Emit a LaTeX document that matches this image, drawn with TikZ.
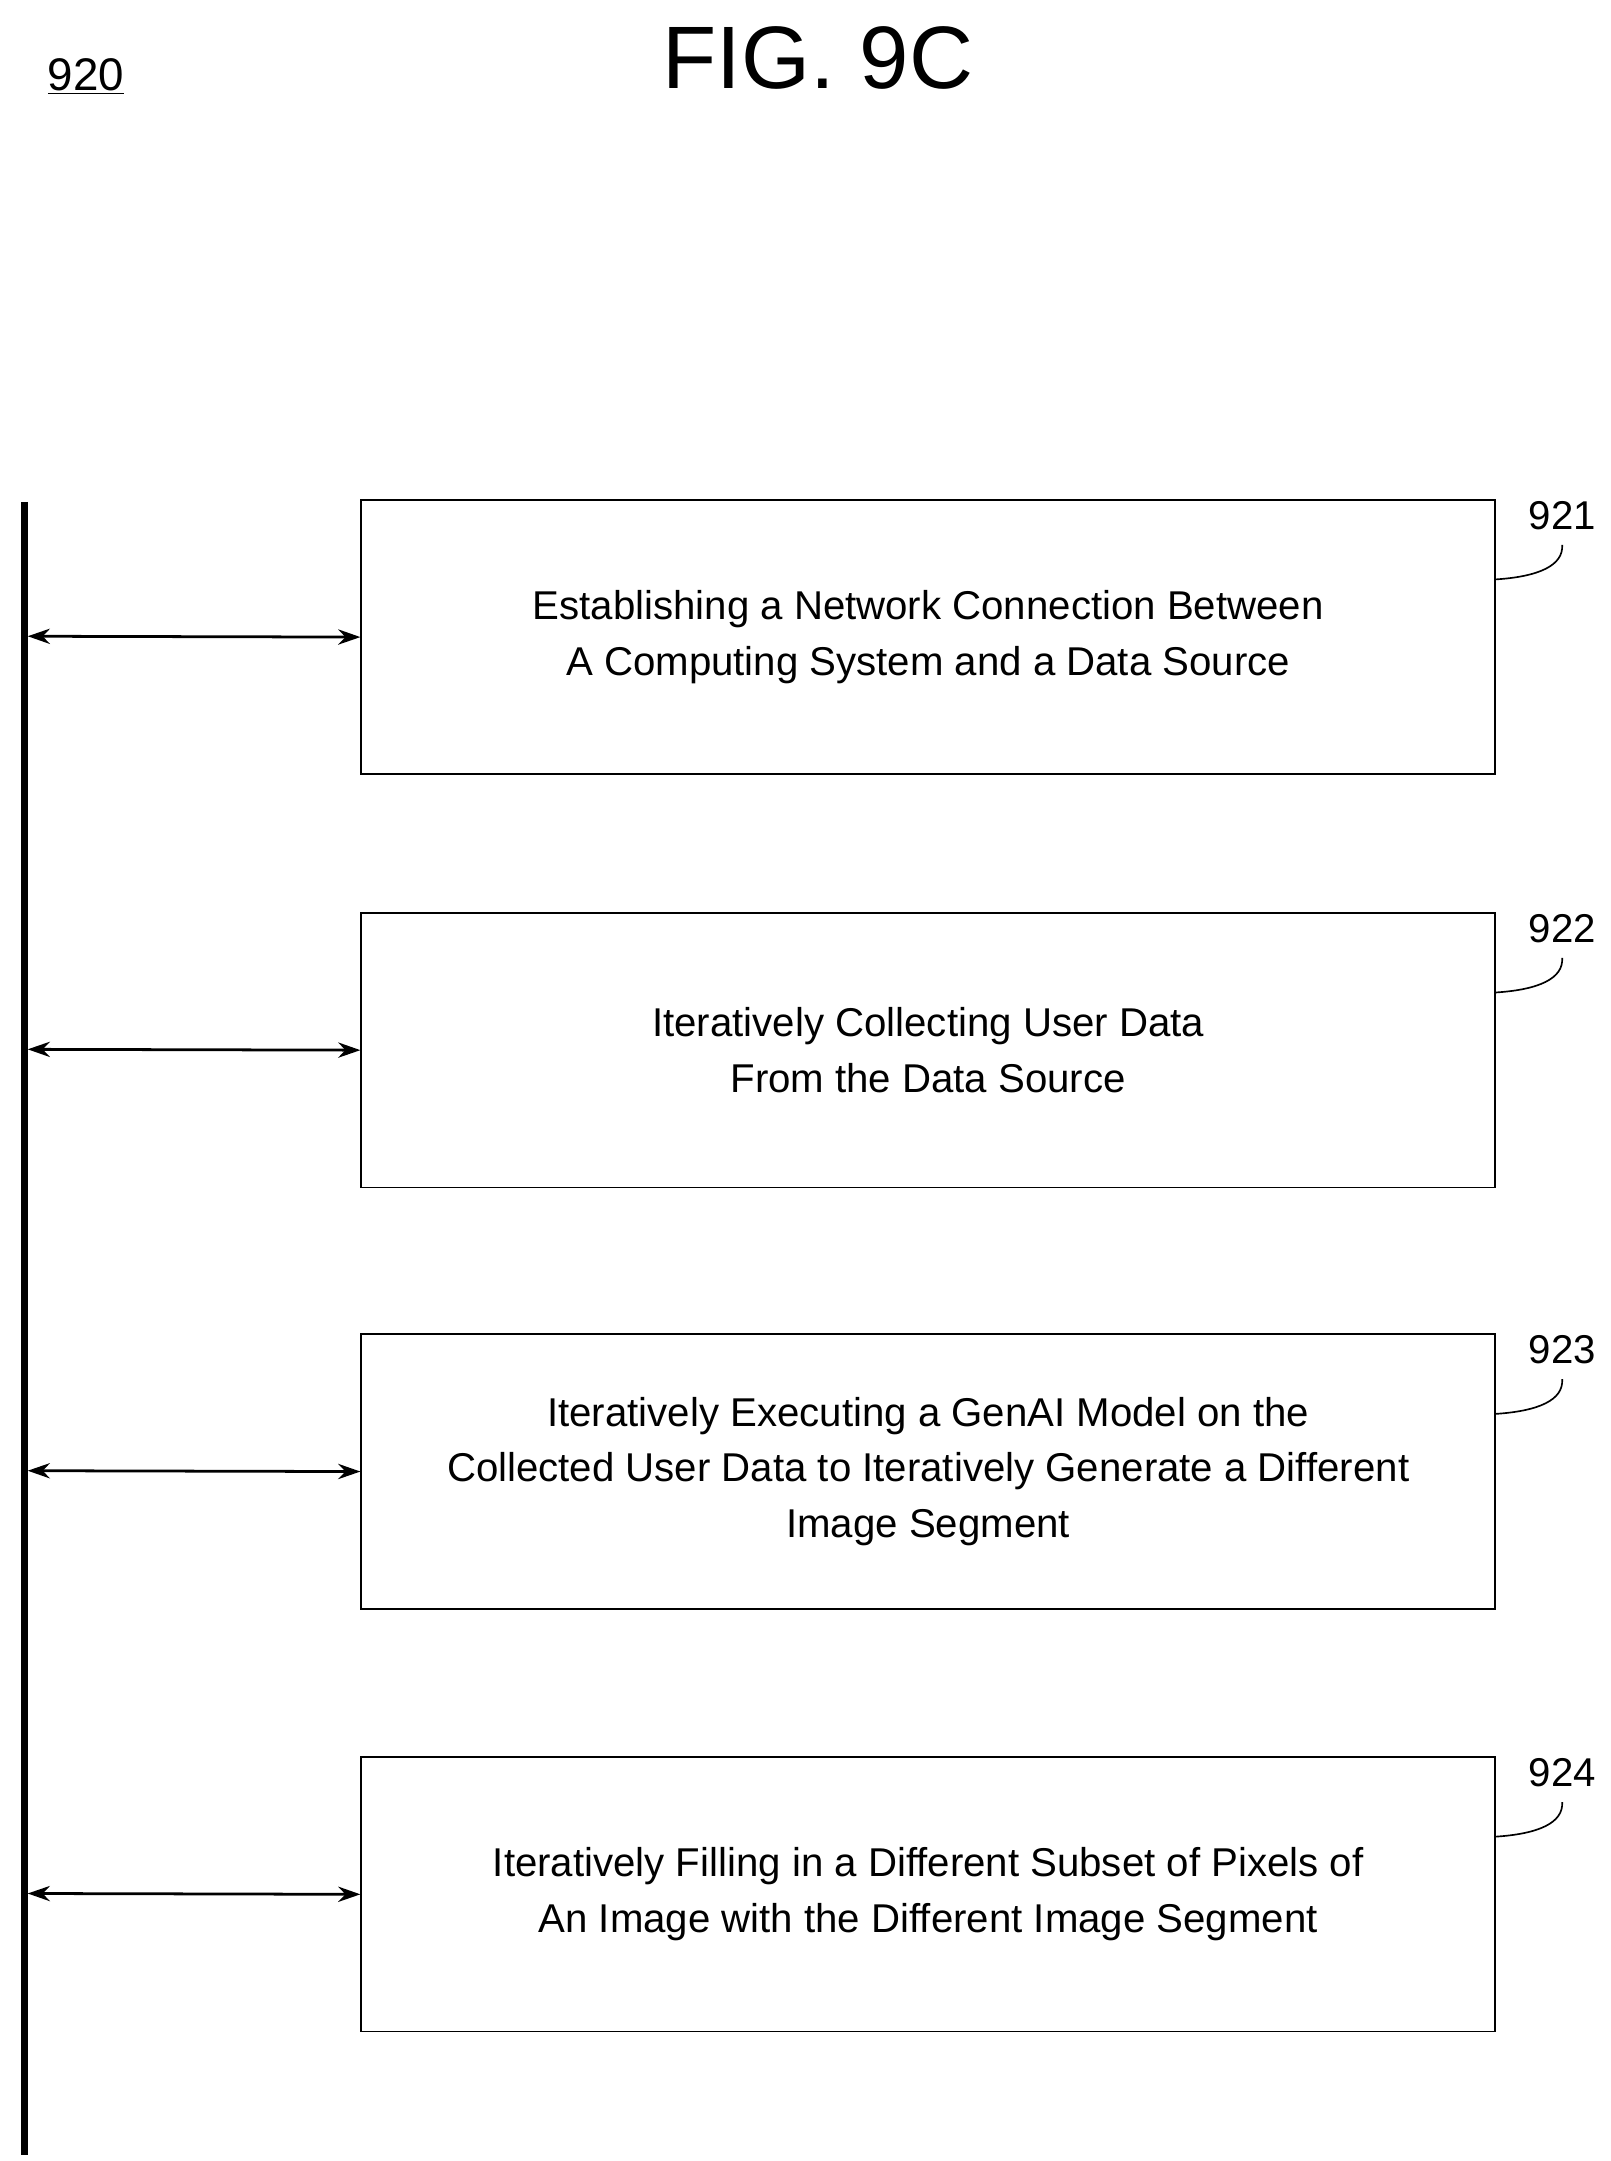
\documentclass[tikz,border=0pt]{standalone}
\usepackage{fontspec}
\setmainfont{Liberation Sans}
\usetikzlibrary{arrows.meta}
\begin{document}
\begin{tikzpicture}[x=1pt,y=-1pt,
  box/.style={draw,line width=1.2pt,minimum width=818pt,minimum height=198pt,anchor=north west,align=center,font=\fontsize{29}{40}\selectfont,inner sep=0pt},
  arr/.style={{Stealth[length=16pt,width=11pt]}-{Stealth[length=16pt,width=11pt]},line width=2pt},
  lab/.style={font=\fontsize{29}{34}\selectfont},
  sq/.style={line width=1.2pt}]
\useasboundingbox (0,0) rectangle (1162,1559);
\node[font=\fontsize{33}{38}\selectfont] (n920) at (62,55) {\underline{920}};
\node[font=\fontsize{64}{70}\selectfont] (fig) at (590,42) {FIG. 9C};
\coordinate (top) at (18,362);
\coordinate (bot) at (18,1555);
\draw[line width=5pt] (top) -- (bot);
\foreach \i/\y/\t/\n in {1/360/{Establishing a Network Connection Between\\A Computing System and a Data Source}/921,
  2/658/{Iteratively Collecting User Data\\From the Data Source}/922,
  3/962/{Iteratively Executing a GenAI Model on the\\Collected User Data to Iteratively Generate a Different\\Image Segment}/923,
  4/1267/{Iteratively Filling in a Different Subset of Pixels of\\An Image with the Different Image Segment}/924}{
  \node[box] (b\i) at (260,\y) {\t};
  \coordinate (l\i) at (20,\y+99);
  \draw[arr] (l\i) -- (b\i.west);
  \node[lab] (r\i) at (1127,\y+12) {\n};
  \coordinate (s\i) at (1079,\y+58);
  \draw[sq] (s\i) .. controls (1110,\y+56) and (1128,\y+48) .. (1127,\y+33);
}
\end{tikzpicture}
\end{document}
